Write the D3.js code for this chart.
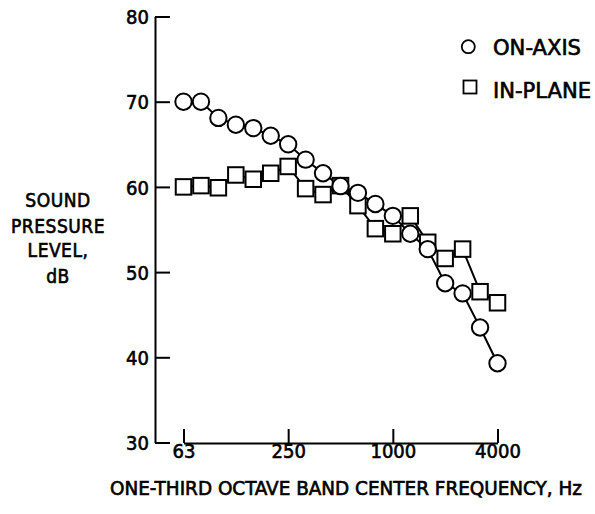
<!DOCTYPE html>
<html>
<head>
<meta charset="utf-8">
<script src="https://cdn.jsdelivr.net/npm/d3@7"></script>
<style>
  body { margin: 0; background: #fff; }
  svg { display: block; }
  text { font-family: "DejaVu Sans Condensed", "Liberation Sans Narrow", "DejaVu Sans", sans-serif; fill: #000; stroke: #000; stroke-width: 0.6px; }
</style>
</head>
<body>
<svg id="chart" width="595" height="514"></svg>
<script>
// ---- data ----
const bands = ["63","80","100","125","160","200","250","315","400","500","630","800","1000","1250","1600","2000","2500","3150","4000"];
const onAxis  = [70, 70, 68.1, 67.3, 66.9, 66.0, 65.0, 63.2, 61.6, 60.1, 59.3, 58.0, 56.6, 54.5, 52.7, 48.7, 47.5, 43.5, 39.3];
const inPlane = [60.0, 60.15, 59.9, 61.4, 60.9, 61.6, 62.4, 59.8, 59.1, 60.15, 57.8, 55.1, 54.5, 56.6, 53.5, 51.6, 52.7, 47.7, 46.4];
const xTickLabels = ["63","250","1000","4000"];
const yTicks = [30, 40, 50, 60, 70, 80];
const yLabelLines = ["SOUND", "PRESSURE", "LEVEL,", "dB"];
const xTitle = "ONE-THIRD OCTAVE BAND CENTER FREQUENCY, Hz";
const legendItems = ["ON-AXIS", "IN-PLANE"];

const svg = d3.select("#chart");

const x = d3.scalePoint().domain(bands).range([183.5, 497.5]).padding(0);
const y = d3.scaleLinear().domain([30, 80]).range([442.5, 16.5]);

// y axis
const yAxis = d3.axisLeft(y).tickValues(yTicks).tickSizeInner(-15).tickSizeOuter(0).tickPadding(6).tickFormat(d3.format("d"));
const gy = svg.append("g").attr("transform", "translate(155,0)").call(yAxis);
gy.selectAll("path, line").attr("stroke", "#000").attr("stroke-width", 2);
gy.selectAll("text").attr("font-size", 20).attr("font-family", null).attr("dy", "0.36em");

// x axis
const xAxis = d3.axisBottom(x).tickValues(xTickLabels).tickSizeInner(-14).tickSizeOuter(0).tickPadding(1);
const gx = svg.append("g").attr("transform", "translate(0,443)").call(xAxis);
gx.selectAll("path, line").attr("stroke", "#000").attr("stroke-width", 2);
gx.selectAll("text").attr("font-size", 20).attr("font-family", null);

// x title
svg.append("text").attr("x", 346).attr("y", 495).attr("text-anchor", "middle")
  .attr("font-size", 19).attr("textLength", 472).attr("lengthAdjust", "spacingAndGlyphs").text(xTitle);

// y title
const yBase = [207, 233, 257, 283];
svg.append("g").selectAll("text").data(yLabelLines).join("text")
  .attr("x", 58).attr("y", (d, i) => yBase[i]).attr("text-anchor", "middle")
  .attr("font-size", 19).attr("letter-spacing", 0.5).text(d => d);

// lines
const line = d3.line().x((d, i) => x(bands[i])).y(d => y(d));
svg.append("path").datum(onAxis).attr("d", line).attr("fill", "none").attr("stroke", "#000").attr("stroke-width", 2);
svg.append("path").datum(inPlane).attr("d", line).attr("fill", "none").attr("stroke", "#000").attr("stroke-width", 2);

// squares
const s = 15.5;
svg.append("g").selectAll("rect").data(inPlane).join("rect")
  .attr("x", (d, i) => x(bands[i]) - s / 2).attr("y", d => y(d) - s / 2)
  .attr("width", s).attr("height", s).attr("fill", "#fff").attr("stroke", "#000").attr("stroke-width", 2);

// circles
svg.append("g").selectAll("circle").data(onAxis).join("circle")
  .attr("cx", (d, i) => x(bands[i])).attr("cy", d => y(d)).attr("r", 8.2)
  .attr("fill", "#fff").attr("stroke", "#000").attr("stroke-width", 2);

// legend
const lg = svg.append("g");
lg.append("circle").attr("cx", 468.3).attr("cy", 46.7).attr("r", 6.5).attr("fill", "#fff").attr("stroke", "#000").attr("stroke-width", 1.8);
lg.append("rect").attr("x", 463.5).attr("y", 80.5).attr("width", 13).attr("height", 13).attr("fill", "#fff").attr("stroke", "#000").attr("stroke-width", 1.8);
lg.selectAll("text").data(legendItems).join("text")
  .attr("x", 493).attr("y", (d, i) => i === 0 ? 55 : 98)
  .attr("font-size", 21).attr("textLength", (d, i) => i === 0 ? 88 : 98).attr("lengthAdjust", "spacingAndGlyphs")
  .text(d => d);
</script>
</body>
</html>
